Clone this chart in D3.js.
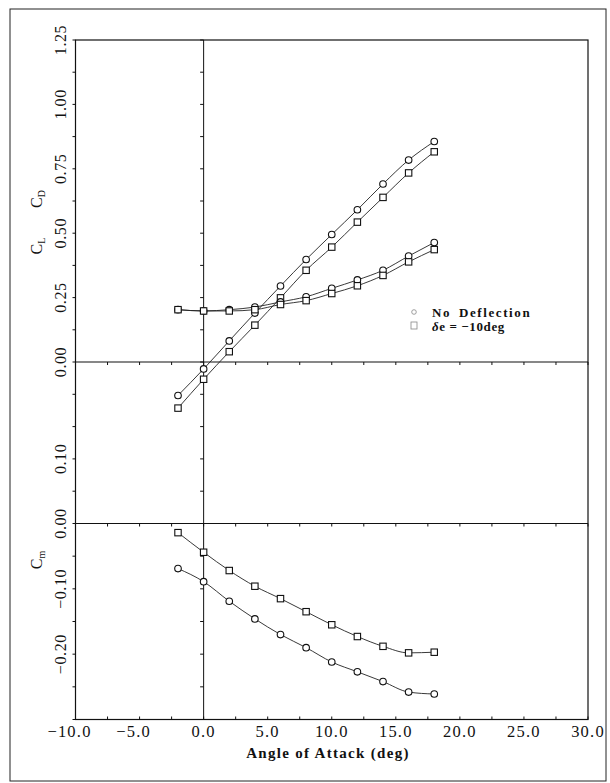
<!DOCTYPE html>
<html><head><meta charset="utf-8">
<script src="https://cdn.jsdelivr.net/npm/d3@7"></script>
<style>
html,body{margin:0;padding:0;background:#fff;}
svg{display:block;}
text{font-family:"Liberation Serif","Times New Roman",serif;fill:#111;}
</style></head>
<body>
<svg id="chart" width="610" height="783"></svg>
<script>
// ---- data ----
const alpha = [-2, 0, 2, 4, 6, 8, 10, 12, 14, 16, 18];
const clNoDefl = [-0.130, -0.027, 0.082, 0.190, 0.295, 0.398, 0.495, 0.591, 0.691, 0.784, 0.856];
const clDefl   = [-0.179, -0.067, 0.040, 0.143, 0.249, 0.356, 0.446, 0.543, 0.639, 0.734, 0.816];
const cdNoDefl = [0.331, 0.329, 0.331, 0.335, 0.343, 0.351, 0.364, 0.377, 0.392, 0.414, 0.435];
const cdDefl   = [0.331, 0.329, 0.329, 0.331, 0.339, 0.345, 0.356, 0.368, 0.384, 0.405, 0.424];
const cmNoDefl = [-0.069, -0.089, -0.119, -0.146, -0.170, -0.190, -0.212, -0.227, -0.242, -0.258, -0.261];
const cmDefl   = [-0.014, -0.044, -0.072, -0.096, -0.115, -0.135, -0.155, -0.173, -0.188, -0.198, -0.197];
const xTicks = [-10, -5, 0, 5, 10, 15, 20, 25, 30];
const clLabels = [0, 0.25, 0.5, 0.75, 1.0, 1.25];
const cdLabels = [0.10];
const cmLabels = [0, -0.10, -0.20];
const legendNames = ["No Deflection", "δe = −10deg"];

// ---- layout ----
const svg = d3.select("#chart");
const L = 75.5, R = 588, T = 40, B = 719.5;
const yCL0 = 362, yCm0 = 523.5;

const x = d3.scaleLinear().domain([-10, 30]).range([L, R]);
const yCL = d3.scaleLinear().domain([0, 1.25]).range([yCL0, T]);
const yCD = d3.scaleLinear().domain([0, 0.25]).range([yCm0, yCL0]);
const yCm = d3.scaleLinear().domain([0, -0.30]).range([yCm0, B]);

// outer frame
svg.append("rect").attr("x", 10).attr("y", 9).attr("width", 596).attr("height", 772)
  .attr("fill", "none").attr("stroke", "#222").attr("stroke-width", 1);

// plot box
svg.append("rect").attr("x", L).attr("y", T).attr("width", R - L).attr("height", B - T)
  .attr("fill", "none").attr("stroke", "#111").attr("stroke-width", 1.2);

const g = svg.append("g");
// zero lines
g.append("line").attr("x1", L).attr("x2", R).attr("y1", yCL(0)).attr("y2", yCL(0)).attr("stroke", "#111").attr("stroke-width", 1.2);
g.append("line").attr("x1", L).attr("x2", R).attr("y1", yCm(0)).attr("y2", yCm(0)).attr("stroke", "#111").attr("stroke-width", 1.2);
g.append("line").attr("x1", x(0)).attr("x2", x(0)).attr("y1", T).attr("y2", B).attr("stroke", "#111").attr("stroke-width", 1);

// tick positions along the left axis
const yTickPos = [];
d3.range(0, 1.2501, 0.125).forEach(v => yTickPos.push(yCL(v)));
d3.range(0.05, 0.2001, 0.05).forEach(v => yTickPos.push(yCD(v)));
d3.range(0, -0.3001, -0.05).forEach(v => yTickPos.push(yCm(v)));

// left axis ticks (outward) and x=0 line ticks (pointing left)
yTickPos.forEach(p => {
  g.append("line").attr("x1", L - 3).attr("x2", L).attr("y1", p).attr("y2", p).attr("stroke", "#111");
  g.append("line").attr("x1", x(0) - 3.5).attr("x2", x(0)).attr("y1", p).attr("y2", p).attr("stroke", "#111");
});

// x ticks every 2.5 on the bottom axis and on the zero lines
d3.range(-10, 30.01, 2.5).forEach(v => {
  g.append("line").attr("x1", x(v)).attr("x2", x(v)).attr("y1", B).attr("y2", B - 3).attr("stroke", "#111");
  g.append("line").attr("x1", x(v)).attr("x2", x(v)).attr("y1", yCL(0)).attr("y2", yCL(0) + 3).attr("stroke", "#111");
  g.append("line").attr("x1", x(v)).attr("x2", x(v)).attr("y1", yCm(0)).attr("y2", yCm(0) + 3).attr("stroke", "#111");
});

// x tick labels
const fmtX = d => (d < 0 ? "−" : "") + Math.abs(d).toFixed(1);
svg.selectAll(".xl").data(xTicks).enter().append("text")
  .attr("x", d => x(d) + (d < 0 ? -6 : 0)).attr("y", 737)
  .attr("text-anchor", "middle").attr("font-size", 16.5).attr("letter-spacing", 1.2)
  .text(fmtX);

svg.append("text").attr("x", 328).attr("y", 758).attr("text-anchor", "middle")
  .attr("font-size", 15).attr("font-weight", "bold").attr("letter-spacing", 1.3)
  .text("Angle of Attack (deg)");

// y tick labels (rotated)
const fmtY = d => (d < 0 ? "−" : "") + Math.abs(d).toFixed(2);
const yLab = [];
clLabels.forEach(v => yLab.push([yCL(v), v]));
cdLabels.forEach(v => yLab.push([yCD(v), v]));
cmLabels.forEach(v => yLab.push([yCm(v), v]));
yLab.forEach(([p, v]) => {
  svg.append("text").attr("transform", `translate(66,${p}) rotate(-90)`)
    .attr("text-anchor", "middle").attr("font-size", 16).attr("letter-spacing", 0.6)
    .text(fmtY(v));
});

// axis titles
function coefLabel(cx, cy, sub) {
  const t = svg.append("text").attr("transform", `translate(${cx},${cy}) rotate(-90)`)
    .attr("text-anchor", "middle").attr("font-size", 16);
  t.append("tspan").text("C");
  t.append("tspan").attr("font-size", 10).attr("dy", 3).text(sub);
}
coefLabel(42, 246, "L");
coefLabel(42, 199, "D");
coefLabel(42, 560, "m");

// series
const series = [
  {vals: clNoDefl, y: yCL, sym: "circle"},
  {vals: clDefl, y: yCL, sym: "square"},
  {vals: cdNoDefl, y: yCD, sym: "circle"},
  {vals: cdDefl, y: yCD, sym: "square"},
  {vals: cmNoDefl, y: yCm, sym: "circle"},
  {vals: cmDefl, y: yCm, sym: "square"}
];
const line = d3.line().curve(d3.curveMonotoneX);
series.forEach(s => {
  const pts = alpha.map((a, i) => [x(a), s.y(s.vals[i])]);
  svg.append("path").attr("d", line(pts)).attr("fill", "none").attr("stroke", "#222").attr("stroke-width", 0.9);
  pts.forEach(([px, py]) => {
    if (s.sym === "circle") {
      svg.append("circle").attr("cx", px).attr("cy", py).attr("r", 3.3)
        .attr("fill", "#fff").attr("stroke", "#111").attr("stroke-width", 1.1);
    } else {
      svg.append("rect").attr("x", px - 3.2).attr("y", py - 3.2).attr("width", 6.4).attr("height", 6.4)
        .attr("fill", "#fff").attr("stroke", "#111").attr("stroke-width", 1.1);
    }
  });
});

// legend
const lg = svg.append("g");
lg.append("circle").attr("cx", 414).attr("cy", 312).attr("r", 2.3).attr("fill", "none").attr("stroke", "#888").attr("stroke-width", 0.8);
lg.append("rect").attr("x", 411).attr("y", 322).attr("width", 6).attr("height", 7).attr("fill", "none").attr("stroke", "#888").attr("stroke-width", 0.8);
lg.append("text").attr("x", 432).attr("y", 316.5).attr("font-size", 13).attr("font-weight", "bold")
  .attr("letter-spacing", 1.6).attr("word-spacing", 3).text(legendNames[0]);
const t2 = lg.append("text").attr("x", 432).attr("y", 330.5).attr("font-size", 13).attr("font-weight", "bold").attr("letter-spacing", 0.6);
t2.append("tspan").attr("font-style", "italic").text("δ");
t2.append("tspan").text(legendNames[1].slice(1));
</script>
</body></html>
